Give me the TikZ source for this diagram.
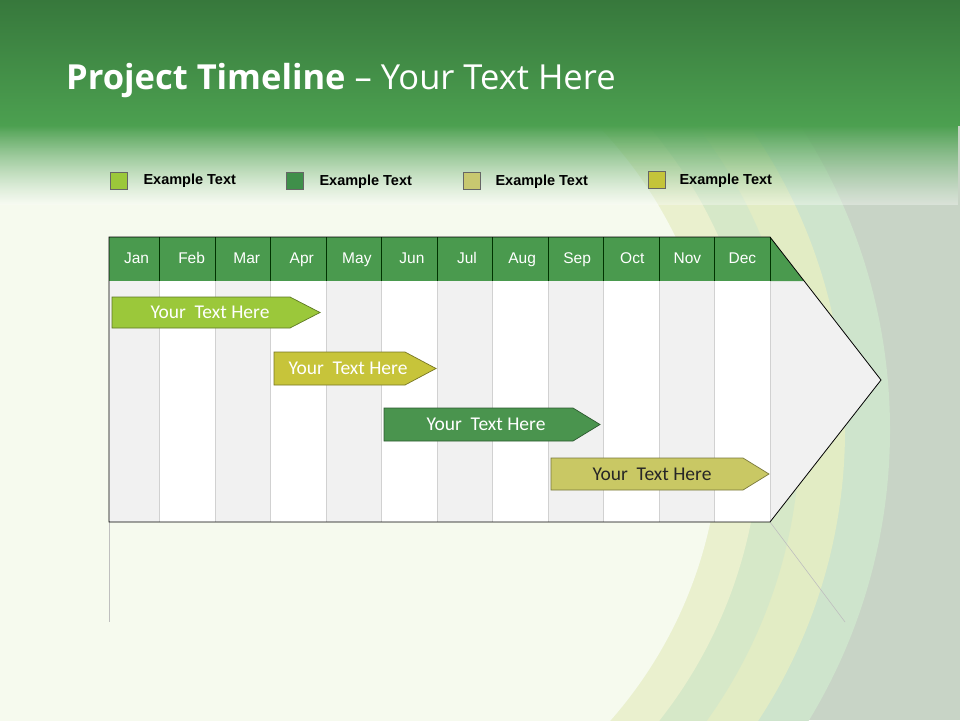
\documentclass[tikz,border=0pt]{standalone}
\usepackage{fontspec}
\setmainfont{Liberation Sans}
\newfontfamily\carl{Carlito}
\newfontfamily\opens{Open Sans}
\usetikzlibrary{fadings}
\definecolor{hdr}{HTML}{4A9A4E}
\definecolor{cA}{HTML}{9BC83A}
\definecolor{cB}{HTML}{C7C43A}
\definecolor{cC}{HTML}{4A944E}
\definecolor{cD}{HTML}{C9C864}
\definecolor{lgA}{HTML}{9BC83A}
\definecolor{lgB}{HTML}{3F8F4A}
\definecolor{lgC}{HTML}{C8C870}
\definecolor{lgD}{HTML}{C4C43A}
\definecolor{bgA}{HTML}{F6FAEE}
\tikzset{
 month/.style={font=\fontsize{15.5}{18}\selectfont, text=white, text height=11pt, text depth=3pt},
 legbox/.style={draw=black!60, line width=0.5pt, minimum size=17pt, inner sep=0pt},
 legtext/.style={font=\bfseries\fontsize{14.5}{17}\selectfont, anchor=west},
 bar/.style={line width=0.7pt},
 bartext/.style={font=\carl\fontsize{19.5}{22}\selectfont},
}
\begin{document}
\begin{tikzpicture}[x=1pt,y=-1pt]
\useasboundingbox (0,0) rectangle (960,720);
% background
\begin{scope}
\clip (0,0) rectangle (960,720);
\fill[color={rgb,255:red,200;green,212;blue,198}] (0,0) rectangle (960,720);
\fill[color={rgb,255:red,206;green,228;blue,204}] (330,430) circle (560);
\fill[color={rgb,255:red,226;green,236;blue,196}] (315,430) circle (530);
\fill[color={rgb,255:red,214;green,232;blue,200}] (300,430) circle (500);
\fill[color={rgb,255:red,234;green,240;blue,206}] (290,430) circle (470);
\fill[bgA] (280,430) circle (440);
\end{scope}
\shade[top color={rgb,255:red,55;green,120;blue,60}, bottom color={rgb,255:red,76;green,160;blue,80}] (0,0) rectangle (960,125);
\fill[color={rgb,255:red,76;green,160;blue,80}, path fading=south] (0,125) rectangle (960,205);
\fill[white, opacity=0.35, path fading=north] (0,125) rectangle (960,205);
% title
\node[anchor=west, text=white, font=\opens\fontsize{34.5}{39}\selectfont, inner sep=0pt] (title) at (66,81) {\textbf{Project Timeline} – Your Text Here};
% legend
\node[legbox, fill=lgA] (l1) at (118.5,180.5) {};
\node[legtext] (t1) at (140,181) {Example Text};
\node[legbox, fill=lgB] (l2) at (294.5,181) {};
\node[legtext] (t2) at (316,182) {Example Text};
\node[legbox, fill=lgC] (l3) at (471.5,180.5) {};
\node[legtext] (t3) at (492,182) {Example Text};
\node[legbox, fill=lgD] (l4) at (656.5,180) {};
\node[legtext] (t4) at (676,181) {Example Text};
% reflection
\draw[black!25, line width=0.6pt] (109,522) -- (109,622);
\draw[black!25, line width=0.6pt] (770,522) -- (845,622);
% body
\fill[color={rgb,255:red,241;green,241;blue,241}] (770,237) -- (881,380) -- (770,522) -- cycle;
\foreach \a/\b/\c in {109/159/F1F1F1,159/215/FFFFFF,215/270/F1F1F1,270/326/FFFFFF,326/381/F1F1F1,381/437/FFFFFF,437/492/F1F1F1,492/548/FFFFFF,548/603/F1F1F1,603/659/FFFFFF,659/714/F1F1F1,714/770/FFFFFF}{
 \definecolor{tmp}{HTML}{\c}\fill[tmp] (\a,281) rectangle (\b,522);
}
\foreach \x in {159,215,270,326,381,437,492,548,603,659,714,770}{\draw[black!18, line width=1pt] (\x,281) -- (\x,522);}
\fill[hdr] (109,237) rectangle (770,281);
\fill[hdr] (770,237) -- (804,281) -- (770,281) -- cycle;
\foreach \x in {159,215,270,326,381,437,492,548,603,659,714,770}{\draw[black!80!green, line width=0.8pt] (\x,237) -- (\x,281);}
\draw[black, line width=0.8pt] (109,522) -- (109,237) -- (770,237) -- (881,380) -- (770,522) -- cycle;
\foreach \m [count=\i] in {Jan,Feb,Mar,Apr,May,Jun,Jul,Aug,Sep,Oct,Nov,Dec}{
 \node[month] (m\i) at ({109+55.08*(\i-0.5)},259.5) {\m};
}
% bars
\draw[bar, draw=cA!60!black, fill=cA] (112,297) -- (290,297) -- (320,312.5) -- (290,328) -- (112,328) -- cycle;
\node[bartext, text=white] (b1) at (210,312.5) {Your\ \ Text Here};
\draw[bar, draw=cB!60!black, fill=cB] (274,352) -- (405,352) -- (436,368.5) -- (405,385) -- (274,385) -- cycle;
\node[bartext, text=white] (b2) at (348,368.5) {Your\ \ Text Here};
\draw[bar, draw=cC!60!black, fill=cC] (384,408) -- (573,408) -- (600,424.5) -- (573,441) -- (384,441) -- cycle;
\node[bartext, text=white] (b3) at (486,424.5) {Your\ \ Text Here};
\draw[bar, draw=cD!60!black, fill=cD] (551,458) -- (743,458) -- (769,474) -- (743,490) -- (551,490) -- cycle;
\node[bartext, text=black!85] (b4) at (652,474) {Your\ \ Text Here};
\end{tikzpicture}
\end{document}
